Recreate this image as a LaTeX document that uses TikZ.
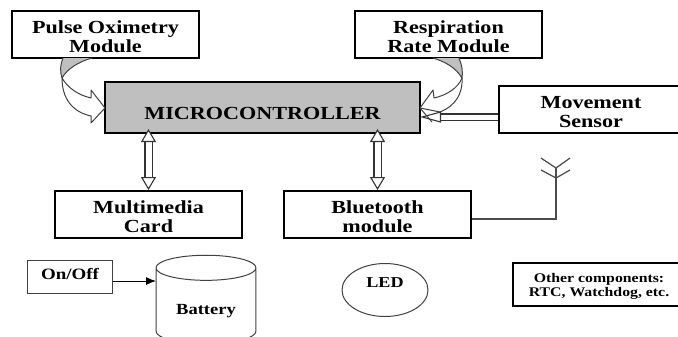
\documentclass[tikz,border=0pt]{standalone}
\usepackage{fontspec}
\setmainfont[FakeStretch=1.2]{Liberation Serif}
\usepackage{tikz}
\usetikzlibrary{
  arrows.meta,
  shapes.geometric
}

\begin{document}
\begin{tikzpicture}[
        x=0.02cm,y=-0.02cm,
        block/.style={
            draw,line width=0.4mm,align=center,font=\fontsize{10.5}{10.8}\selectfont\bfseries,
            minimum width=3.74cm,minimum height=0.94cm,inner sep=0pt,text height=0.74cm
          },thin block/.style={
            draw=black!75,line width=0.2mm,align=center,inner sep=0pt
          },hollow/.style={
            draw=black!80,line width=0.22mm,double=white,double distance=0.12cm,
            shorten <=-0.1cm,
            {Triangle[open,fill=white,length=0.26cm,width=0.3cm]}-{Triangle[open,fill=white,length=0.26cm,width=0.3cm]}
          },curved/.style={
            draw=black!75,line width=0.2mm,line join=round
          }
      ]
      \path[use as bounding box,clip] (0,0) rectangle (678,336);

      % main blocks
      \node[block,minimum width=6.3cm,minimum height=1.02cm,fill=black!25,text height=0.5cm] (micro) at (262.5,107.5) {MICROCONTROLLER};
      \node[block] (pulse) at (105.5,34.5) {Pulse Oximetry\\Module};
      \node[block] (respiration) at (448.5,34.5) {Respiration\\Rate Module};
      \node[block,minimum width=3.68cm] (movement) at (591,109.5) {Movement\\Sensor};
      \node[block] (multimedia) at (148.5,214.5) {Multimedia\\Card};
      \node[block] (bluetooth) at (377.5,214.5) {Bluetooth\\module};

      % parts along the bottom
      \node[thin block,minimum width=1.72cm,minimum height=0.66cm,text depth=0.12cm,font=\fontsize{9}{10}\selectfont\bfseries] (onoff) at (70,276.5) {On/Off};
      \node[thin block,cylinder,shape border rotate=90,aspect=0.42,minimum width=2cm,minimum height=1.77cm,text height=0.4cm,font=\fontsize{8.8}{10}\selectfont\bfseries] (battery) at (206,306) {Battery};
      \node[thin block,ellipse,minimum width=1.72cm,minimum height=1.06cm,text depth=0.3cm,font=\fontsize{8.6}{10}\selectfont\bfseries] (led) at (385,290) {LED};
      \node[block,line width=0.35mm,minimum width=3.44cm,minimum height=0.86cm,text height=0.54cm,font=\fontsize{7.5}{7.9}\selectfont\bfseries] (other) at (599,284.5) {Other components:\\RTC, Watchdog, etc.};

      % end points that do not sit on a node anchor
      \coordinate (sensor_in) at (420,117);
      \coordinate (battery_in) at (156,281);
      \coordinate (ant_top) at (556,168);
      \coordinate (ant_low) at (556,178);
      \coordinate (ant_foot) at (556,219);

      % links to the memory card and the radio
      \draw[hollow] (micro.south -| multimedia.north) -- (multimedia.north);
      \draw[hollow] (micro.south -| bluetooth.north) -- (bluetooth.north);

      % sensor link
      \draw[
      draw=black!80,line width=0.22mm,double=white,double distance=0.1cm,
      -{Triangle[open,fill=white,length=0.42cm,width=0.22cm]}
      ] (sensor_in -| movement.west) -- (sensor_in);

      % curved arrow on the left
      \filldraw[curved,fill=black!25] (63,58) .. controls (60,65) and (60,72) .. (62,78) .. controls (67,69) and (78,62) .. (92,58);
      \draw[curved,fill=white] (62,78) .. controls (68,88) and (78,95) .. (91,98) -- (91,90) -- (105,108) -- (91,123) -- (91,116) .. controls (72,112) and (62,98) .. (62,78);
      % curved arrow on the right
      \filldraw[curved,fill=black!25] (459,58) .. controls (462,65) and (463,72) .. (462,78) .. controls (456,68) and (446,62) .. (433,58);
      \draw[curved] (462,78) .. controls (458,88) and (447,95) .. (434,98) -- (433,90) -- (420,108) -- (432,122);
      \draw[curved] (420,108) -- (440,112) .. controls (455,106) and (463,94) .. (462,78);

      % antenna
      \draw[draw=black!70,line width=0.25mm] (bluetooth.east |- ant_foot) -- (ant_foot) -- (ant_top);
      \draw[draw=black!70,line width=0.25mm] (541,158) -- (ant_top) -- (570,158);
      \draw[draw=black!70,line width=0.25mm] (541,170) -- (ant_low) -- (570,170);

      % switch to battery
      \draw[line width=0.2mm,-{Latex[length=0.2cm,width=0.16cm]}] (battery_in -| onoff.east) -- (battery_in);

    \end{tikzpicture}
\end{document}
